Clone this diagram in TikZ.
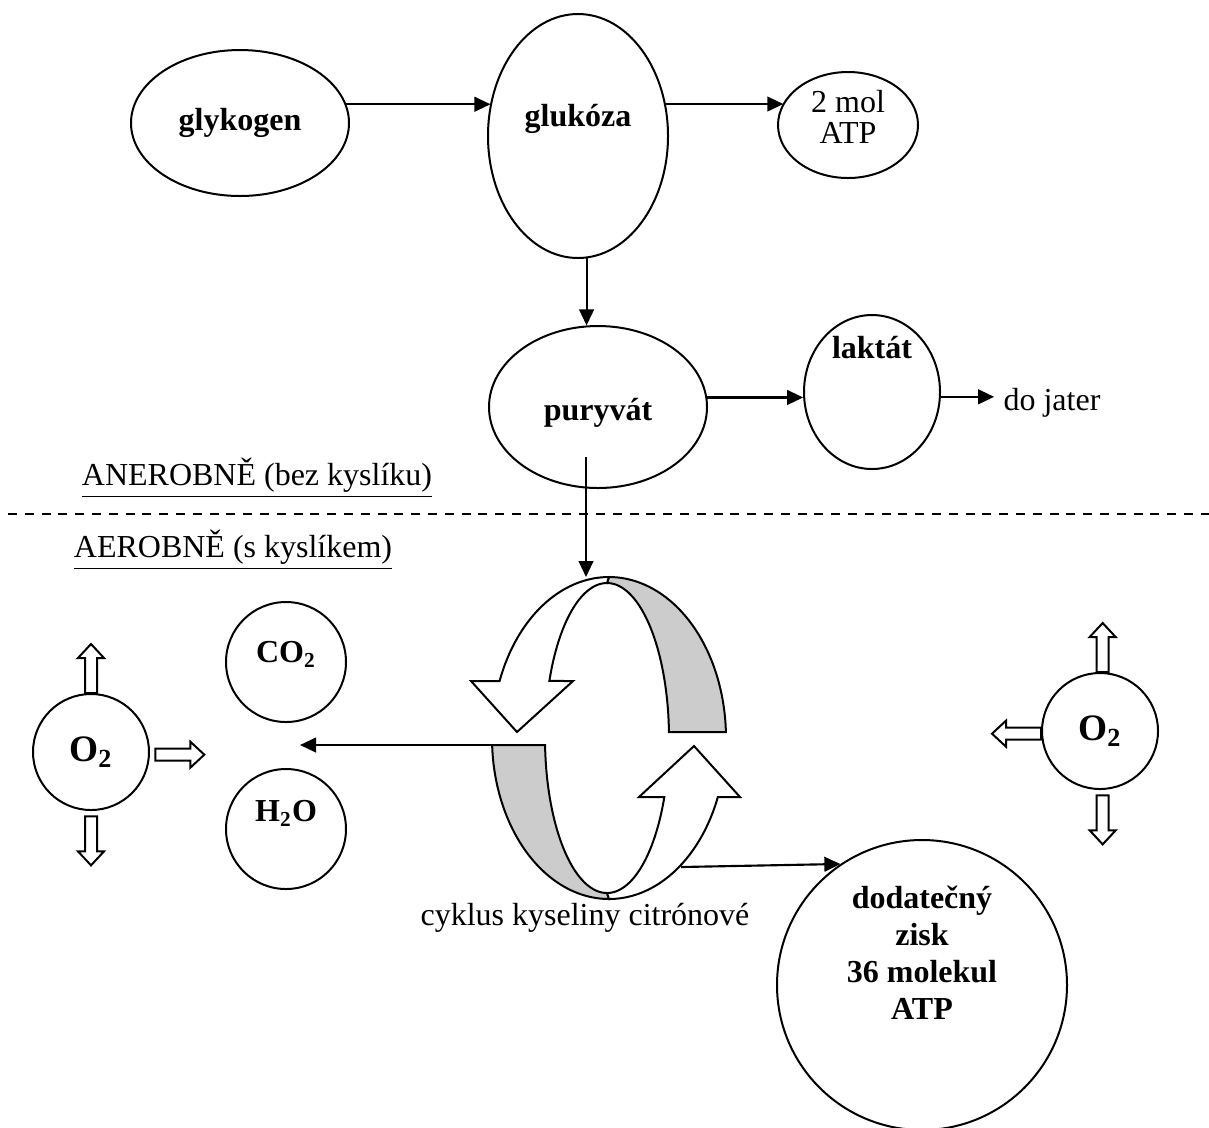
\documentclass[tikz,border=0pt]{standalone}
\usepackage{fontspec}
\setmainfont{Liberation Serif}
\usetikzlibrary{arrows.meta}
\usetikzlibrary{positioning}
\usetikzlibrary{shapes.geometric}

\begin{document}
\begin{tikzpicture}[x=0.375pt, y=-0.375pt,
                every node/.style = {font=\fontsize{12}{14.4}\selectfont},
                bub/.style = {draw, ellipse, line width=0.75pt, inner sep=0pt},
                ball/.style = {draw, circle, line width=0.75pt, inner sep=0pt},
                txt/.style = {font=\fontsize{12}{13.9}\selectfont\bfseries, align=center},
                big/.style = {font=\fontsize{14}{16}\selectfont\bfseries},
                arr/.style = {draw, line width=0.8pt, -{Triangle[length=6pt, width=5.5pt]}},
                band/.style = {draw, line width=0.75pt, fill=gray!40},
                ring/.style = {draw, line width=0.75pt, fill=white},
                pics/hollow/.style = {code={
                    \draw[line width=0.75pt, fill=white] (0,-6) -- (35,-6) -- (35,-13) -- (49,0)
                        -- (35,13) -- (35,6) -- (0,6) -- cycle;}},
            ]
            \useasboundingbox (0,0) rectangle (1209,1127);

            % anaerobni cast
            \node (glykogen) [bub, minimum width=81.75pt, minimum height=54.75pt,
                label={[txt]center:glykogen}] at (240,123){};
            \node (glukoza) [bub, minimum width=67.5pt, minimum height=91.5pt,
                label={[txt, yshift=6.4pt]center:glukóza}] at (578,136){};
            \node (atp) [bub, minimum width=52.5pt, minimum height=39.75pt,
                label={[align=center, font=\fontsize{12}{11.5}\selectfont, yshift=3pt]center:{2 mol\\ATP}}] at (848,125){};
            \node (puryvat) [bub, minimum width=81.75pt, minimum height=60.75pt,
                label={[txt, yshift=-2.25pt]center:puryvát}] at (598,407){};
            \node (laktat) [bub, minimum width=51pt, minimum height=57.75pt,
                label={[txt, yshift=16.5pt]center:laktát}] at (872,392){};
            \node (jater) at (1052,403){do jater};

            \path[arr] (glykogen.10.2) -- (glykogen.10.2 -| glukoza.159.8);
            \path[arr] (glukoza.20.2) -- (glukoza.20.2 -| atp.161.9);
            \path[arr] (glukoza.274) -- (glukoza.274 |- puryvat.98.5);
            \path[arr] (puryvat.5.3) -- (puryvat.5.3 -| laktat.184);
            \path[arr] (laktat.356) -- (laktat.356 -| jater.west);

            \node (anaer) at (257,478){\underline{ANEROBNĚ (bez kyslíku)}};
            \draw[line width=0.9pt, dash pattern=on 3.4pt off 2.9pt] (8,514) -- (1209,514);
            \node (aer) at (233,550){\underline{AEROBNĚ (s kyslíkem)}};

            % cyklus kyseliny citronove
            \filldraw[band] plot[domain=90:2.1, samples=40] ({609+117*cos(\x)}, {738-161*sin(\x)})
                -- plot[domain=2.2:90, samples=40] ({607+62*cos(\x)}, {738-155*sin(\x)}) -- cycle;
            \filldraw[ring] plot[domain=90:159.3, samples=40] ({609+117*cos(\x)}, {738-161*sin(\x)})
                -- (471,681) -- (517,732) -- (573,681)
                -- plot[domain=158.4:90, samples=40] ({607+62*cos(\x)}, {738-155*sin(\x)}) -- cycle;
            \filldraw[band] plot[domain=182.5:270, samples=40] ({609+117*cos(\x)}, {738-161*sin(\x)})
                -- plot[domain=270:182.6, samples=40] ({607+62*cos(\x)}, {738-155*sin(\x)}) -- cycle;
            \filldraw[ring] plot[domain=270:338.5, samples=40] ({609+117*cos(\x)}, {738-161*sin(\x)})
                -- (740,797) -- (694,746) -- (639,797)
                -- plot[domain=337.6:270, samples=40] ({607+62*cos(\x)}, {738-155*sin(\x)}) -- cycle;
            \node (cyklus) at (585,918){cyklus kyseliny citrónové};

            \coordinate (pout) at (586,457);
            \coordinate (ringN) at (586,577);
            \coordinate (ringW) at (492,745);
            \coordinate (prod) at (300,745);
            \coordinate (ringE) at (681,867);

            % produkty
            \node (co2) [ball, minimum size=45pt,
                label={[txt, yshift=3pt]center:CO\textsubscript{2}}] at (286,662){};
            \node (h2o) [ball, minimum size=45pt,
                label={[txt, yshift=6pt]center:H\textsubscript{2}O}] at (286,829){};
            \node (o2l) [ball, minimum size=43.5pt,
                label={[big]center:O\textsubscript{2}}] at (91,752){};
            \node (o2r) [ball, minimum size=43.5pt,
                label={[big]center:O\textsubscript{2}}] at (1100,731){};
            \node (zisk) [ball, minimum size=108.75pt,
                label={[txt, yshift=12pt]center:{dodatečný\\zisk\\36 molekul\\ATP}}] at (922,985){};

            \pic[rotate=90] at (o2l.north) {hollow};
            \pic[rotate=-90] at ([yshift=-2pt]o2l.south) {hollow};
            \pic at ([xshift=2pt, yshift=-1pt]o2l.east) {hollow};
            \pic[rotate=90] at ([xshift=1pt]o2r.north) {hollow};
            \pic[rotate=180] at ([yshift=-1pt]o2r.west) {hollow};
            \pic[rotate=-90] at ([xshift=1pt, yshift=-2pt]o2r.south) {hollow};

            \path[arr] (pout) -- (ringN);
            \path[arr] (ringW) -- (prod);
            \path[arr] (ringE) -- (zisk.124.2);
        \end{tikzpicture}
\end{document}
